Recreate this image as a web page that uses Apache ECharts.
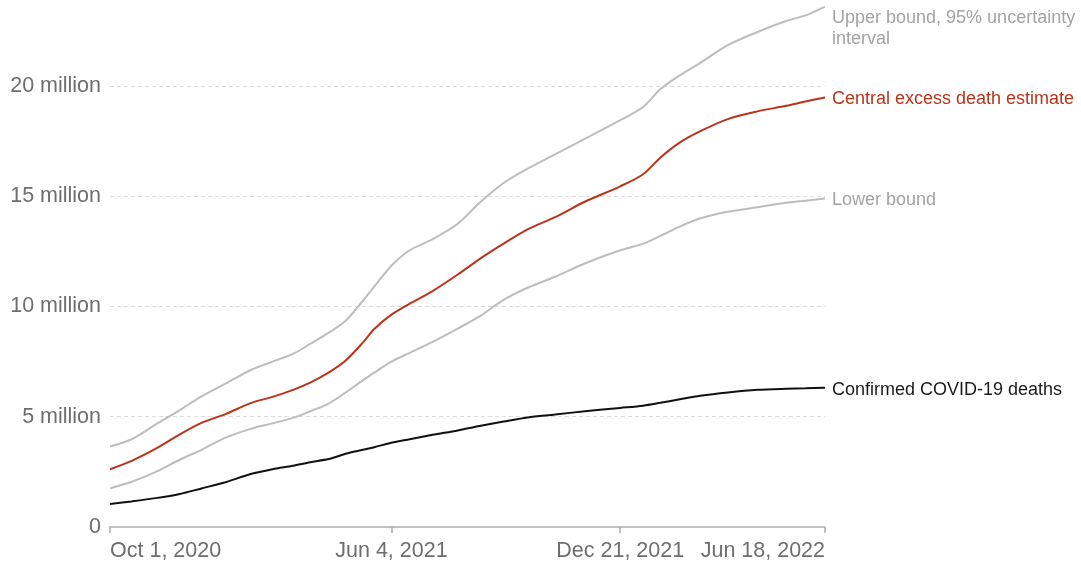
<!DOCTYPE html>
<html>
<head>
<meta charset="utf-8">
<script src="https://cdn.jsdelivr.net/npm/echarts@6/dist/echarts.min.js"></script>
<style>
  html, body { margin: 0; padding: 0; background: #ffffff; }
  #chart { width: 1081px; height: 563px; }
</style>
</head>
<body>
<div id="chart"></div>
<script>
// Cumulative deaths worldwide, in millions
const dates = [
  '2020-10-01', '2020-10-20', '2020-11-10', '2020-12-01', '2020-12-20',
  '2021-01-10', '2021-02-01', '2021-02-20', '2021-03-10', '2021-03-25',
  '2021-04-10', '2021-04-25', '2021-05-10', '2021-05-20', '2021-06-04',
  '2021-06-20', '2021-07-10', '2021-08-01', '2021-08-20', '2021-09-10',
  '2021-10-01', '2021-10-25', '2021-11-20', '2021-12-21', '2022-01-10',
  '2022-01-25', '2022-02-10', '2022-03-01', '2022-03-25', '2022-04-20',
  '2022-05-15', '2022-06-01', '2022-06-18'
];
const upperBound = [
  3.65, 3.98, 4.65, 5.30, 5.92, 6.50, 7.12, 7.50, 7.85, 8.30,
  8.80, 9.35, 10.25, 10.90, 11.85, 12.55, 13.05, 13.75, 14.70, 15.60,
  16.25, 16.90, 17.60, 18.45, 19.05, 19.85, 20.45, 21.05, 21.85, 22.45,
  22.95, 23.20, 23.60
];
const centralEstimate = [
  2.62, 3.00, 3.55, 4.20, 4.72, 5.12, 5.62, 5.90, 6.22, 6.55,
  7.00, 7.55, 8.36, 8.98, 9.63, 10.13, 10.70, 11.45, 12.15, 12.85,
  13.50, 14.05, 14.75, 15.45, 16.00, 16.75, 17.40, 17.95, 18.50, 18.85,
  19.10, 19.30, 19.48
];
const lowerBound = [
  1.75, 2.05, 2.50, 3.05, 3.50, 4.05, 4.45, 4.70, 4.95, 5.25,
  5.60, 6.10, 6.65, 7.00, 7.50, 7.90, 8.40, 9.00, 9.55, 10.30,
  10.85, 11.35, 11.95, 12.55, 12.85, 13.20, 13.60, 14.00, 14.30, 14.50,
  14.70, 14.80, 14.90
];
const confirmedDeaths = [
  1.04, 1.16, 1.31, 1.50, 1.75, 2.03, 2.40, 2.62, 2.78, 2.94,
  3.08, 3.32, 3.50, 3.62, 3.82, 3.98, 4.18, 4.38, 4.58, 4.78,
  4.97, 5.10, 5.25, 5.40, 5.50, 5.63, 5.78, 5.95, 6.10, 6.22,
  6.27, 6.29, 6.31
];
const tickDates = ['2020-10-01', '2021-06-04', '2021-12-21', '2022-06-18'];
const yTicks = [0, 5, 10, 15, 20];

const monthNames = ['Jan', 'Feb', 'Mar', 'Apr', 'May', 'Jun', 'Jul', 'Aug', 'Sep', 'Oct', 'Nov', 'Dec'];
const toTime = s => { const [y, m, d] = s.split('-').map(Number); return Date.UTC(y, m - 1, d); };
const fmtDate = v => { const d = new Date(v); return monthNames[d.getUTCMonth()] + ' ' + d.getUTCDate() + ', ' + d.getUTCFullYear(); };
const pairs = vals => dates.map((d, i) => [toTime(d), vals[i]]);

const FONT = '"Liberation Sans", Arial, sans-serif';
const GREY_LINE = '#bdbdbd';

function lineSeries(name, vals, color, labelText, labelColor, extraLabel) {
  return {
    name: name,
    type: 'line',
    data: pairs(vals),
    showSymbol: false,
    smooth: 0.3,
    lineStyle: { color: color, width: 2 },
    emphasis: { disabled: true },
    endLabel: Object.assign({
      show: true,
      formatter: labelText,
      color: labelColor,
      fontFamily: FONT,
      fontSize: 18,
      distance: 7,
      offset: [0, 2]
    }, extraLabel || {})
  };
}

const chart = echarts.init(document.getElementById('chart'), null, { renderer: 'canvas' });
chart.setOption({
  animation: false,
  backgroundColor: '#ffffff',
  grid: { left: 110, right: 256, top: 0, bottom: 36, containLabel: false },
  xAxis: {
    // dates as UTC timestamps on a linear scale
    type: 'value',
    min: toTime(dates[0]),
    max: toTime(dates[dates.length - 1]),
    axisLine: { show: true, lineStyle: { color: '#adadad', width: 1.5 } },
    axisTick: {
      show: true, length: 6, inside: false,
      customValues: tickDates.map(toTime),
      lineStyle: { color: '#adadad', width: 1.5 }
    },
    axisLabel: {
      customValues: tickDates.map(toTime),
      formatter: fmtDate,
      color: '#6e6e6e',
      fontFamily: FONT,
      fontSize: 21.5,
      margin: 13,
      alignMinLabel: 'left',
      alignMaxLabel: 'right',
      hideOverlap: false
    },
    splitLine: { show: false }
  },
  yAxis: {
    type: 'value',
    min: 0,
    max: 23.9,
    interval: 5,
    axisLine: { show: false },
    axisTick: { show: false },
    axisLabel: {
      showMaxLabel: false,
      formatter: v => (yTicks.indexOf(v) < 0 ? '' : (v === 0 ? '0' : v + ' million')),
      color: '#6e6e6e',
      fontFamily: FONT,
      fontSize: 21.5,
      margin: 9
    },
    splitLine: {
      show: true, showMinLine: false, showMaxLine: false,
      lineStyle: { color: '#dcdcdc', type: [4, 3], width: 1 }
    }
  },
  series: [
    lineSeries('Upper bound', upperBound, GREY_LINE,
      'Upper bound, 95% uncertainty\ninterval', '#a3a3a3',
      { verticalAlign: 'top', lineHeight: 21, offset: [0, 1] }),
    lineSeries('Lower bound', lowerBound, GREY_LINE, 'Lower bound', '#a3a3a3'),
    lineSeries('Central excess death estimate', centralEstimate, '#b9341b',
      'Central excess death estimate', '#b9341b'),
    lineSeries('Confirmed COVID-19 deaths', confirmedDeaths, '#111111',
      'Confirmed COVID-19 deaths', '#1a1a1a')
  ]
});
</script>
</body>
</html>
